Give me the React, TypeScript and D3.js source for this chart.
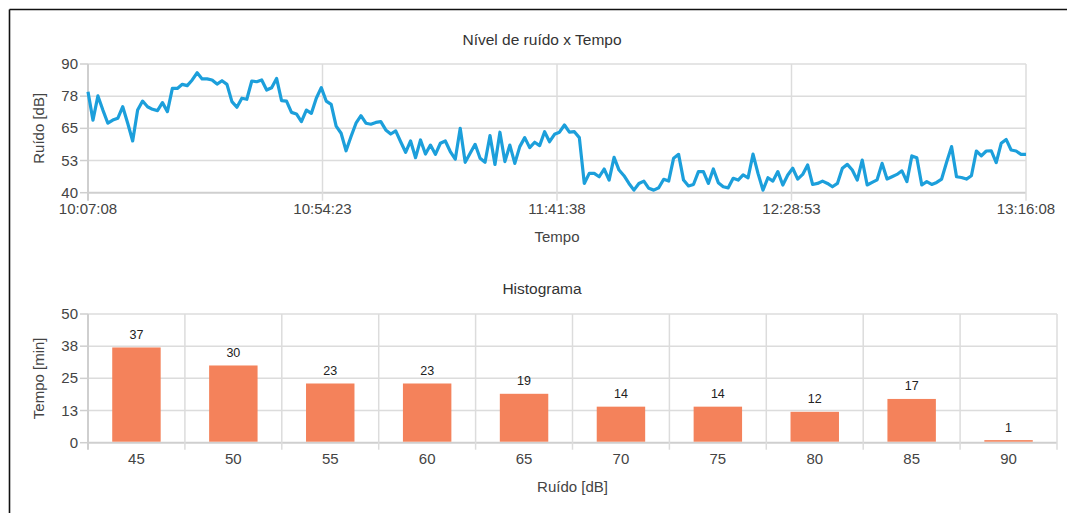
import React from "react";
import * as d3 from "d3";

// ---- Data ----
const noiseValues: number[] = [
  79.2, 68.2, 77.6, 72.1, 67, 68.2, 68.9, 73.4, 67, 60.1,
  72.1, 75.6, 73.4, 72.4, 71.9, 75, 71.5, 80.5, 80.5, 82.1,
  81.6, 83.8, 86.6, 84.2, 84.2, 83.8, 82.2, 83.5, 82.1, 75.4,
  73.2, 76.7, 76.3, 83.4, 83.1, 83.8, 79.9, 80.8, 84.4, 75.8,
  75.6, 71.2, 70.6, 67.6, 72.1, 70.8, 76.7, 80.8, 75.6, 74.3,
  65.9, 63.1, 56.3, 61.8, 67, 69.9, 67, 66.6, 67.3, 67.6,
  64.4, 62.8, 64, 59.8, 55.7, 60.1, 53.6, 60.5, 55, 58.5,
  54.9, 59.2, 60.1, 56, 53, 65, 51.8, 55.3, 58.8, 53.4,
  51.8, 62.2, 51, 63.5, 52.1, 58.5, 51.4, 57.9, 61.4, 57.5,
  59.6, 58.3, 63.7, 59.8, 62.7, 63.5, 66.3, 63.5, 63.7, 61.4,
  43.6, 47.5, 47.5, 46.2, 49.2, 44.9, 53.7, 48.8, 46.6, 43.6,
  41, 43.6, 44.5, 41.7, 41, 41.9, 45.2, 44.5, 53.4, 54.9,
  44.9, 42.6, 43.2, 48.2, 48.2, 43.6, 49.2, 43.9, 42.3, 41.9,
  45.6, 44.9, 46.9, 45.8, 55, 47.5, 41, 45.8, 44.5, 48.2,
  43, 46.9, 49.5, 45.3, 47.1, 50.8, 43.2, 43.6, 44.5, 43.6,
  42.3, 43.6, 49.5, 51, 48.8, 44.9, 52.7, 43, 44, 45,
  51.4, 45.3, 46.2, 47.1, 48.5, 44.3, 54.3, 53.6, 43, 44.3,
  43.2, 44, 45.3, 51.8, 57.9, 46.2, 45.9, 45.3, 46.6, 56.2,
  54.3, 56.2, 56.3, 51.7, 59.2, 60.7, 56.6, 56.2, 54.9, 54.9,
];
const timeTickMinutes = [0, 47.25, 94.5, 141.75, 189];
const timeTickLabels = ["10:07:08", "10:54:23", "11:41:38", "12:28:53", "13:16:08"];
const noiseTicks = [40, 52.5, 65, 77.5, 90];
const noiseTickLabels = ["40", "53", "65", "78", "90"];

const histCategories = ["45", "50", "55", "60", "65", "70", "75", "80", "85", "90"];
const histValues = [37, 30, 23, 23, 19, 14, 14, 12, 17, 1];
const histTicks = [0, 12.5, 25, 37.5, 50];
const histTickLabels = ["0", "13", "25", "38", "50"];

const FONT = "'Liberation Sans', Arial, Helvetica, sans-serif";
const GRID = "#dcdcdc";
const AXIS = "#cfcfcf";
const TXT = "#444";

export default function App() {
  // line chart
  const lx0 = 88, lx1 = 1026, ly0 = 192.7, ly1 = 64;
  const x = d3.scaleLinear().domain([0, 189]).range([lx0, lx1]);
  const y = d3.scaleLinear().domain([40, 90]).range([ly0, ly1]);
  const line = d3
    .line<number>()
    .x((_, i) => x(i))
    .y((d) => y(d));

  // histogram
  const hx0 = 88, hx1 = 1057, hy0 = 442.7, hy1 = 314;
  const xb = d3.scaleBand().domain(histCategories).range([hx0, hx1]).padding(0);
  const yh = d3.scaleLinear().domain([0, 50]).range([hy0, hy1]);
  const bw = xb.bandwidth();
  const barW = bw * 0.5;
  const boundaries = histCategories.map((c) => xb(c) as number).concat([hx1]);

  return (
    <svg
      width={1067}
      height={513}
      style={{ position: "absolute", left: 0, top: 0, fontFamily: FONT }}
    >
      <rect x={0} y={0} width={1067} height={513} fill="#fff" />
      {/* frame */}
      <line x1={9.5} y1={9.5} x2={1067} y2={9.5} stroke="#111" strokeWidth={1.6} />
      <line x1={9.5} y1={9.5} x2={9.5} y2={513} stroke="#111" strokeWidth={1.6} />

      {/* ===== Line chart ===== */}
      <text x={542} y={45} textAnchor="middle" fontSize={15.5} fill="#333">
        Nível de ruído x Tempo
      </text>
      {noiseTicks.map((t, i) => (
        <g key={"ny" + i}>
          <line x1={lx0} x2={lx1} y1={y(t)} y2={y(t)} stroke={i === 0 ? AXIS : GRID} strokeWidth={i === 0 ? 2 : 1.5} />
          <line x1={lx0 - 8} x2={lx0} y1={y(t)} y2={y(t)} stroke={AXIS} strokeWidth={1.5} />
          <text x={lx0 - 10} y={y(t) + 5} textAnchor="end" fontSize={15} fill={TXT}>
            {noiseTickLabels[i]}
          </text>
        </g>
      ))}
      {timeTickMinutes.map((m, i) => (
        <g key={"tx" + i}>
          <line x1={x(m)} x2={x(m)} y1={ly1} y2={ly0 + 8} stroke={i === 0 ? AXIS : GRID} strokeWidth={i === 0 ? 2 : 1.5} />
          <text x={x(m)} y={213.5} textAnchor="middle" fontSize={15} fill={TXT}>
            {timeTickLabels[i]}
          </text>
        </g>
      ))}
      <path d={line(noiseValues) || ""} fill="none" stroke="#1c9fdb" strokeWidth={3.2} strokeLinejoin="round" />
      <text x={557} y={242} textAnchor="middle" fontSize={15} fill={TXT}>
        Tempo
      </text>
      <text
        transform={`translate(44,${(ly0 + ly1) / 2}) rotate(-90)`}
        textAnchor="middle"
        fontSize={15}
        fill={TXT}
      >
        Ruído [dB]
      </text>

      {/* ===== Histogram ===== */}
      <text x={542} y={294} textAnchor="middle" fontSize={15.5} fill="#333">
        Histograma
      </text>
      {histTicks.map((t, i) => (
        <g key={"hy" + i}>
          <line x1={hx0} x2={hx1} y1={yh(t)} y2={yh(t)} stroke={i === 0 ? AXIS : GRID} strokeWidth={i === 0 ? 2 : 1.5} />
          <line x1={hx0 - 8} x2={hx0} y1={yh(t)} y2={yh(t)} stroke={AXIS} strokeWidth={1.5} />
          <text x={hx0 - 10} y={yh(t) + 5} textAnchor="end" fontSize={15} fill={TXT}>
            {histTickLabels[i]}
          </text>
        </g>
      ))}
      {boundaries.map((bx, i) => (
        <line key={"hb" + i} x1={bx} x2={bx} y1={hy1} y2={hy0 + 7} stroke={i === 0 ? AXIS : GRID} strokeWidth={i === 0 ? 2 : 1.5} />
      ))}
      {histCategories.map((c, i) => {
        const cx = (xb(c) as number) + bw / 2;
        return (
          <g key={"bar" + c}>
            <rect x={cx - barW / 2} y={yh(histValues[i])} width={barW} height={hy0 - yh(histValues[i]) - 1} fill="#f4825b" />
            <text x={cx} y={yh(histValues[i]) - 8.5} textAnchor="middle" fontSize={12.5} fill="#222">
              {histValues[i]}
            </text>
            <text x={cx} y={464} textAnchor="middle" fontSize={15} fill={TXT}>
              {c}
            </text>
          </g>
        );
      })}
      <text x={572.5} y={492} textAnchor="middle" fontSize={15} fill={TXT}>
        Ruído [dB]
      </text>
      <text
        transform={`translate(44,${(hy0 + hy1) / 2}) rotate(-90)`}
        textAnchor="middle"
        fontSize={15}
        fill={TXT}
      >
        Tempo [min]
      </text>
    </svg>
  );
}
